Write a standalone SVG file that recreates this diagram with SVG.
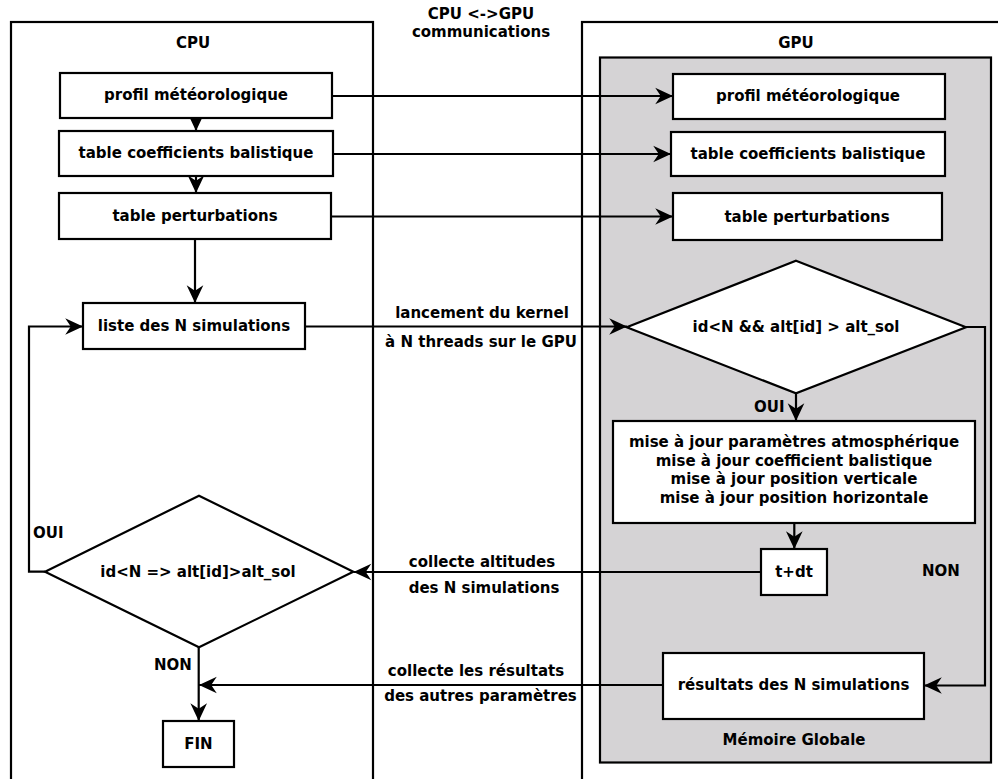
<svg xmlns="http://www.w3.org/2000/svg" width="998" height="779" viewBox="0 0 998 779">
<style>
text{font-family:"DejaVu Sans","Liberation Sans",sans-serif;font-weight:bold;font-size:15px;fill:#000}
.c{text-anchor:middle}
.box{fill:#fff;stroke:#000;stroke-width:2.2}
.frame{fill:none;stroke:#000;stroke-width:2.2}
.mem{fill:#d5d3d5;stroke:#000;stroke-width:2.2}
.ln{fill:none;stroke:#000;stroke-width:2.2}
.ar{marker-end:url(#arr)}
</style>
<defs>
<marker id="arr" markerUnits="userSpaceOnUse" markerWidth="20" markerHeight="20" viewBox="-17 -9 18 18" refX="0" refY="0" orient="auto">
<path d="M0,0 L-16,-7.5 L-11,0 L-16,7.5 Z" fill="#000"/>
</marker>
</defs>

<g id="cpu-frame">
<rect class="frame" x="11" y="22" width="362" height="800"/>
<text class="c" x="193" y="48">CPU</text>
</g>
<g id="gpu-frame">
<rect class="frame" x="582" y="22" width="430" height="800"/>
<text class="c" x="796" y="48">GPU</text>
</g>
<g id="memoire-globale">
<rect class="mem" x="600" y="57.5" width="391" height="705"/>
<text class="c" x="794" y="745">Mémoire Globale</text>
</g>
<g id="comm-title">
<text class="c" x="481" y="19">CPU &lt;-&gt;GPU</text>
<text class="c" x="481" y="37">communications</text>
</g>

<g id="connectors">
<path class="ln ar" d="M196,118 V131"/>
<path class="ln ar" d="M196,176 V193"/>
<path class="ln ar" d="M195,239 V303"/>
<path class="ln ar" d="M332,96 H673"/>
<path class="ln ar" d="M333,154 H671"/>
<path class="ln ar" d="M331,216.5 H673"/>
<path class="ln ar" d="M305,326.5 H627"/>
<path class="ln ar" d="M45,571.7 H29 V326.5 H83"/>
<path class="ln ar" d="M796,393.5 V421"/>
<path class="ln ar" d="M794.3,523 V549"/>
<path class="ln ar" d="M761,572 H353.5"/>
<path class="ln ar" d="M966,327 H985 V685.5 H924"/>
<path class="ln ar" d="M663,685 H199"/>
<path class="ln ar" d="M198.7,647 V721"/>
</g>

<g id="cpu-profil">
<rect class="box" x="60" y="73" width="272" height="45"/>
<text class="c" x="196" y="100">profil météorologique</text>
</g>
<g id="cpu-coeff">
<rect class="box" x="59" y="131" width="274" height="45"/>
<text class="c" x="196" y="158">table coefficients balistique</text>
</g>
<g id="cpu-perturb">
<rect class="box" x="59" y="193" width="272" height="46"/>
<text class="c" x="195" y="221">table perturbations</text>
</g>
<g id="cpu-liste">
<rect class="box" x="83" y="303" width="222" height="46"/>
<text class="c" x="194" y="331">liste des N simulations</text>
</g>
<g id="cpu-test">
<polygon class="box" points="199,495.7 353.3,571.7 199,647.3 45,571.7"/>
<text class="c" x="198" y="577">id&lt;N =&gt; alt[id]&gt;alt_sol</text>
</g>
<g id="cpu-fin">
<rect class="box" x="163" y="721" width="71" height="46"/>
<text class="c" x="198.5" y="749">FIN</text>
</g>

<g id="gpu-profil">
<rect class="box" x="673" y="74" width="272" height="45"/>
<text class="c" x="808" y="101">profil météorologique</text>
</g>
<g id="gpu-coeff">
<rect class="box" x="671" y="132" width="274" height="44"/>
<text class="c" x="808" y="158.5">table coefficients balistique</text>
</g>
<g id="gpu-perturb">
<rect class="box" x="673" y="193" width="269" height="47"/>
<text class="c" x="807" y="222">table perturbations</text>
</g>
<g id="gpu-test">
<polygon class="box" points="796,260.7 966,327.3 796,393.3 626.7,327.3"/>
<text class="c" x="796" y="332">id&lt;N &amp;&amp; alt[id] &gt; alt_sol</text>
</g>
<g id="gpu-maj">
<rect class="box" x="613" y="421" width="362" height="102"/>
<text class="c" x="794" y="447">mise à jour paramètres atmosphérique</text>
<text class="c" x="794" y="465.5">mise à jour coefficient balistique</text>
<text class="c" x="794" y="484">mise à jour position verticale</text>
<text class="c" x="794" y="502.5">mise à jour position horizontale</text>
</g>
<g id="gpu-tdt">
<rect class="box" x="761" y="549" width="66" height="46"/>
<text class="c" x="794" y="577">t+dt</text>
</g>
<g id="gpu-resultats">
<rect class="box" x="663" y="653" width="261" height="66"/>
<text class="c" x="793.5" y="690">résultats des N simulations</text>
</g>

<g id="labels">
<text x="33" y="538">OUI</text>
<text x="154" y="670">NON</text>
<text x="754" y="412">OUI</text>
<text x="922" y="576">NON</text>
<text class="c" x="482" y="318">lancement du kernel</text>
<text class="c" x="481" y="347">à N threads sur le GPU</text>
<text class="c" x="482" y="567">collecte altitudes</text>
<text class="c" x="484" y="593">des N simulations</text>
<text class="c" x="476" y="676">collecte les résultats</text>
<text class="c" x="480.5" y="701">des autres paramètres</text>
</g>
</svg>
